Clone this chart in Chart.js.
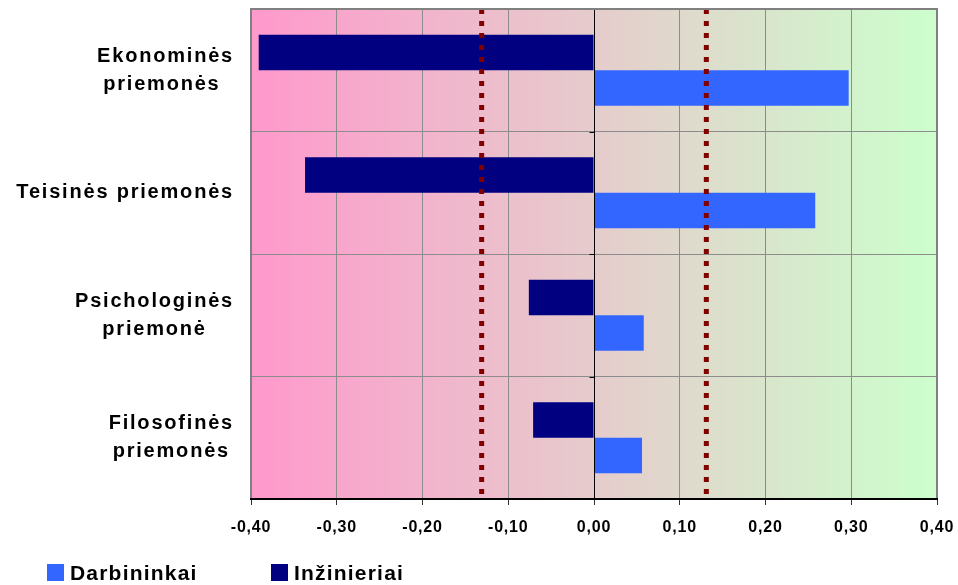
<!DOCTYPE html>
<html>
<head>
<meta charset="utf-8">
<script src="https://cdn.jsdelivr.net/npm/chart.js@4.4.1/dist/chart.umd.min.js"></script>
<style>
  html, body { margin: 0; padding: 0; background: #ffffff; }
  #wrap { width: 958px; height: 585px; position: relative; }
</style>
</head>
<body>
<div id="wrap"><canvas id="chart" width="958" height="585"></canvas></div>
<script>
// Categories (multi-line labels), one entry per row of the chart
const categories = [
  ['Ekonominės', 'priemonės '],
  ['Teisinės priemonės'],
  ['Psichologinės', 'priemonė'],
  ['Filosofinės', 'priemonės']
];

// Series values
const darbininkai = [0.297, 0.258, 0.058, 0.056];
const inzinieriai = [-0.391, -0.337, -0.076, -0.071];

// Value axis ticks and their printed labels
const xTicks = [-0.4, -0.3, -0.2, -0.1, 0, 0.1, 0.2, 0.3, 0.4];
const xTickLabels = ['-0,40', '-0,30', '-0,20', '-0,10', '0,00', '0,10', '0,20', '0,30', '0,40'];

// Dotted threshold lines
const thresholds = [-0.131, 0.131];

// Legend order
const legendOrder = ['Darbininkai', 'Inžinieriai'];

const FONT = "'Liberation Sans', Arial, sans-serif";

const decorPlugin = {
  id: 'decor',
  beforeDraw(chart) {
    const { ctx, chartArea: a } = chart;
    ctx.letterSpacing = '0.8px';
    const g = ctx.createLinearGradient(a.left, 0, a.right, 0);
    g.addColorStop(0, '#FF99CC');
    g.addColorStop(1, '#CCFFCC');
    ctx.save();
    ctx.fillStyle = g;
    ctx.fillRect(a.left, a.top, a.right - a.left, a.bottom - a.top);
    ctx.restore();
  },
  afterDatasetsDraw(chart) {
    const { ctx, chartArea: a, scales } = chart;
    const xs = scales.x;
    ctx.save();
    // vertical axis crossing at zero, with outward tick marks at row boundaries
    const x0 = Math.round(xs.getPixelForValue(0)) + 0.5;
    ctx.strokeStyle = '#000000';
    ctx.lineWidth = 1;
    ctx.beginPath();
    ctx.moveTo(x0, a.top);
    ctx.lineTo(x0, a.bottom);
    const n = categories.length;
    const step = (a.bottom - a.top) / n;
    for (let i = 0; i <= n; i++) {
      const y = Math.round(a.top + i * step) + 0.5;
      ctx.moveTo(x0 - 5, y);
      ctx.lineTo(x0, y);
    }
    ctx.stroke();

    // dotted threshold lines
    ctx.strokeStyle = '#800000';
    ctx.lineWidth = 5;
    ctx.setLineDash([5, 7]);
    thresholds.forEach(v => {
      const x = xs.getPixelForValue(v);
      ctx.beginPath();
      ctx.moveTo(x, a.top);
      ctx.lineTo(x, a.bottom);
      ctx.stroke();
    });
    ctx.setLineDash([]);

    // plot frame
    ctx.strokeStyle = '#808080';
    ctx.lineWidth = 2;
    ctx.strokeRect(a.left, a.top, a.right - a.left, a.bottom - a.top);
    ctx.strokeStyle = '#000000';
    ctx.beginPath();
    ctx.moveTo(a.left - 1, a.bottom);
    ctx.lineTo(a.right + 1, a.bottom);
    ctx.stroke();
    ctx.restore();
  },
  afterDraw(chart) {
    const { ctx, scales } = chart;
    const ys = scales.y;
    ctx.save();
    // category labels: block right-aligned, lines centred within the block
    ctx.font = 'bold 20px ' + FONT;
    ctx.letterSpacing = '1.8px';
    ctx.fillStyle = '#000000';
    ctx.textBaseline = 'middle';
    ctx.textAlign = 'center';
    const rightEdge = 234;
    const lh = 28;
    categories.forEach((lines, i) => {
      const cy = ys.getPixelForValue(i);
      const widths = lines.map(t => ctx.measureText(t).width);
      const w = Math.max(...widths);
      const cx = rightEdge - w / 2;
      lines.forEach((t, j) => {
        ctx.fillText(t, cx, cy + (j - (lines.length - 1) / 2) * lh);
      });
    });

    // legend
    ctx.font = 'bold 21px ' + FONT;
    ctx.letterSpacing = '1.2px';
    ctx.textAlign = 'left';
    ctx.textBaseline = 'alphabetic';
    const itemX = [47, 271];
    legendOrder.forEach((name, k) => {
      const ds = chart.data.datasets.find(d => d.label === name);
      ctx.fillStyle = ds.backgroundColor;
      ctx.fillRect(itemX[k], 564, 17, 17);
      ctx.fillStyle = '#000000';
      ctx.fillText(name, itemX[k] + 23, 580);
    });
    ctx.restore();
  }
};

new Chart(document.getElementById('chart'), {
  type: 'bar',
  data: {
    labels: categories,
    datasets: [
      { label: 'Inžinieriai', data: inzinieriai, backgroundColor: '#000080' },
      { label: 'Darbininkai', data: darbininkai, backgroundColor: '#3366FF' }
    ]
  },
  options: {
    indexAxis: 'y',
    responsive: false,
    animation: false,
    devicePixelRatio: 1,
    layout: { padding: { left: 0, right: 21, top: 9, bottom: 46 } },
    datasets: {
      bar: { categoryPercentage: 0.58, barPercentage: 1.0, borderWidth: 0 }
    },
    plugins: {
      legend: { display: false },
      tooltip: { enabled: false },
      title: { display: false }
    },
    scales: {
      x: {
        type: 'linear',
        min: -0.4,
        max: 0.4,
        afterBuildTicks(scale) { scale.ticks = xTicks.map(v => ({ value: v })); },
        afterFit(scale) {
          scale.height = 40;
          scale.paddingLeft = 0;
          scale.paddingRight = 0;
        },
        ticks: {
          callback: (v, i) => xTickLabels[i],
          color: '#000000',
          font: { family: FONT, size: 16, weight: 'bold' },
          padding: 13,
          maxRotation: 0,
          autoSkip: false
        },
        grid: { color: '#8c8c8c', lineWidth: 1, tickLength: 6, tickColor: '#333333' },
        border: { display: true, color: '#000000', width: 1 }
      },
      y: {
        type: 'category',
        offset: true,
        afterFit(scale) { scale.width = 251; },
        ticks: { display: false },
        grid: { color: '#8c8c8c', lineWidth: 1, offset: true, drawTicks: false },
        border: { display: true, color: '#808080', width: 2 }
      }
    }
  },
  plugins: [decorPlugin]
});
</script>
</body>
</html>
